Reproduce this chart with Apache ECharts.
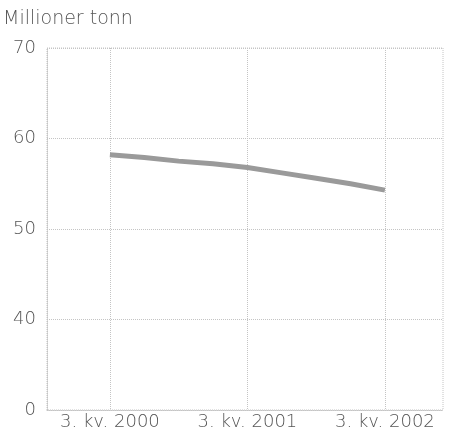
<!DOCTYPE html>
<html>
<head>
<meta charset="utf-8">
<script src="https://cdn.jsdelivr.net/npm/echarts@6/dist/echarts.min.js"></script>
<style>
  html, body { margin: 0; padding: 0; background: #fff; }
  #main { width: 449px; height: 438px; }
</style>
</head>
<body>
<div id="main"></div>
<script>
// kvartaler fra 3. kv. 2000 til 3. kv. 2002
var quarters = ['3. kv. 2000', '4. kv. 2000', '1. kv. 2001', '2. kv. 2001', '3. kv. 2001',
                '4. kv. 2001', '1. kv. 2002', '2. kv. 2002', '3. kv. 2002'];
var values = [58.2, 57.9, 57.5, 57.2, 56.8, 56.2, 55.6, 55.0, 54.3];
// indeks for kvartalene som får etikett
var labelIdx = [0, 4, 8];
// y-akse: brudd, nederste linje vises som 0
var yTicks = [30, 40, 50, 60, 70];

var font = '"DejaVu Sans", sans-serif';
var gridColor = '#c4c4c4';
var textColor = '#555';

var chart = echarts.init(document.getElementById('main'));
chart.setOption({
  animation: false,
  title: {
    text: 'Millioner tonn',
    left: 3, top: 10, padding: 0,
    textStyle: { fontFamily: font, fontSize: 19, fontWeight: 200, color: textColor }
  },
  grid: {
    left: 47, right: 6, top: 48, bottom: 28,
    show: true, borderColor: gridColor, borderWidth: 1, borderType: 'dotted'
  },
  xAxis: {
    type: 'value',
    min: -1.83, max: 9.69,
    axisLine: { show: true, onZero: false, lineStyle: { color: gridColor, type: 'dotted' } },
    axisTick: { show: false, customValues: labelIdx },
    axisLabel: {
      customValues: labelIdx,
      formatter: function (v) { return quarters[Math.round(v)]; },
      fontFamily: font, fontSize: 18, fontWeight: 200, color: textColor, margin: 3
    },
    splitLine: { show: true, lineStyle: { color: gridColor, type: 'dotted' } }
  },
  yAxis: {
    type: 'value',
    min: yTicks[0], max: yTicks[yTicks.length - 1], interval: 10,
    axisLine: { show: true, onZero: false, lineStyle: { color: gridColor, type: 'dotted' } },
    axisTick: { show: false },
    axisLabel: {
      formatter: function (v) { return v === yTicks[0] ? '0' : String(v); },
      fontFamily: font, fontSize: 18, fontWeight: 200, color: textColor, margin: 11
    },
    splitLine: { show: true, lineStyle: { color: gridColor, type: 'dotted' } }
  },
  series: [{
    type: 'line',
    data: values.map(function (v, i) { return [i, v]; }),
    symbol: 'none',
    lineStyle: { color: '#9a9a9a', width: 5 }
  }]
});
</script>
</body>
</html>
